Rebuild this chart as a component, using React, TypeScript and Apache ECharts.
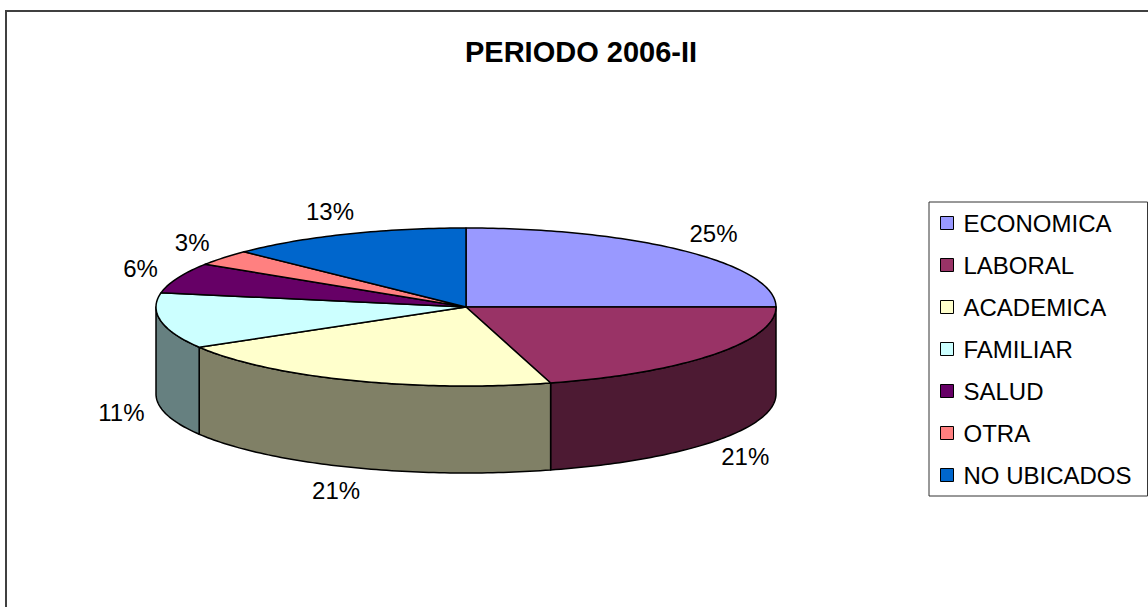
import React, { useEffect, useRef } from "react";
import * as echarts from "echarts";

const title = "PERIODO 2006-II";
const categories = ["ECONOMICA", "LABORAL", "ACADEMICA", "FAMILIAR", "SALUD", "OTRA", "NO UBICADOS"];
const values = [25, 20.6, 20.9, 11.4, 6.2, 3.2, 12.7];
const colors = ["#9999FF", "#993366", "#FFFFCC", "#CCFFFF", "#660066", "#FF8080", "#0066CC"];

const FONT = "'Liberation Sans', Arial, Helvetica, sans-serif";

function darken(hex: string, f: number) {
  const n = parseInt(hex.slice(1), 16);
  const r = Math.round(((n >> 16) & 255) * f);
  const g = Math.round(((n >> 8) & 255) * f);
  const b = Math.round((n & 255) * f);
  return `rgb(${r},${g},${b})`;
}

export default function App() {
  const ref = useRef<HTMLDivElement>(null);
  useEffect(() => {
    if (!ref.current) return;
    const chart = echarts.init(ref.current, undefined, { renderer: "svg" });
    const W = 1148;
    const H = 607;
    // pie geometry (layout)
    const CX = 466;
    const CY = 307;
    const RX = 310;
    const RY = 79;
    const DEPTH = 87;
    const LRX = 350;
    const LRY = 104;

    const total = values.reduce((a, b) => a + b, 0);
    const starts: number[] = [];
    let acc = 0;
    values.forEach((v) => {
      starts.push((acc / total) * 360);
      acc += v;
    });

    const pt = (deg: number, dy = 0) => {
      const r = (deg * Math.PI) / 180;
      return [CX + RX * Math.sin(r), CY - RY * Math.cos(r) + dy];
    };
    const arcPts = (a: number, b: number, dy = 0) => {
      const pts: number[][] = [];
      const n = Math.max(2, Math.ceil(Math.abs(b - a)));
      for (let i = 0; i <= n; i++) pts.push(pt(a + ((b - a) * i) / n, dy));
      return pts;
    };

    const makeRender = (idx: number) => (params: any, api: any) => {
      const v = api.value(0);
      const a = starts[idx];
      const b = a + (v / total) * 360;
      const color = colors[idx];
      const children: any[] = [];
      const s = Math.max(a, 90);
      const e = Math.min(b, 270);
      if (s < e) {
        const pts = arcPts(s, e, 0).concat(arcPts(e, s, DEPTH));
        children.push({
          type: "polygon",
          shape: { points: pts },
          style: { fill: darken(color, 0.5), stroke: "#000", lineWidth: 1.5, lineJoin: "round" },
        });
      }
      const topPts = [[CX, CY]].concat(arcPts(a, b, 0));
      children.push({
        type: "polygon",
        shape: { points: topPts },
        style: { fill: color, stroke: "#000", lineWidth: 1.5, lineJoin: "round" },
      });
      const m = ((a + b) / 2) * Math.PI / 180;
      const lx = CX + LRX * Math.sin(m);
      const cosm = Math.cos(m);
      const ly = CY - LRY * cosm + (cosm < 0 ? DEPTH : 0);
      children.push({
        type: "text",
        z2: 100,
        style: {
          text: Math.round((v / total) * 100) + "%",
          x: lx,
          y: ly,
          align: "center",
          verticalAlign: "middle",
          fill: "#000",
          font: `24px ${FONT}`,
        },
      });
      return { type: "group", children };
    };

    chart.setOption({
      animation: false,
      color: colors,
      graphic: [
        {
          type: "rect",
          shape: { x: 6, y: 11, width: W + 20, height: H + 20 },
          style: { fill: "none", stroke: "#404040", lineWidth: 2 },
          silent: true,
        },
        {
          type: "text",
          x: 581,
          y: 52,
          style: {
            text: title,
            align: "center",
            verticalAlign: "middle",
            fill: "#000",
            font: `bold 29px ${FONT}`,
          },
        },
      ],
      legend: {
        orient: "vertical",
        left: 929,
        top: 202,
        data: categories,
        icon: "rect",
        itemWidth: 13,
        itemHeight: 13,
        itemGap: 18,
        padding: [9, 16, 9, 11],
        borderColor: "#333",
        borderWidth: 1,
        selectedMode: false,
        itemStyle: { borderColor: "#000", borderWidth: 1 },
        textStyle: {
          fontFamily: FONT,
          fontSize: 24,
          lineHeight: 24,
          color: "#000",
          padding: [0, 0, 0, 5],
        },
      },
      series: categories.map((name, i) => ({
        type: "custom",
        name,
        coordinateSystem: "none",
        silent: true,
        itemStyle: { color: colors[i] },
        renderItem: makeRender(i),
        data: [[values[i]]],
      })),
    });
    return () => chart.dispose();
  }, []);
  return (
    <div
      ref={ref}
      style={{ position: "fixed", left: 0, top: 0, width: 1148, height: 607, background: "#fff" }}
    />
  );
}
